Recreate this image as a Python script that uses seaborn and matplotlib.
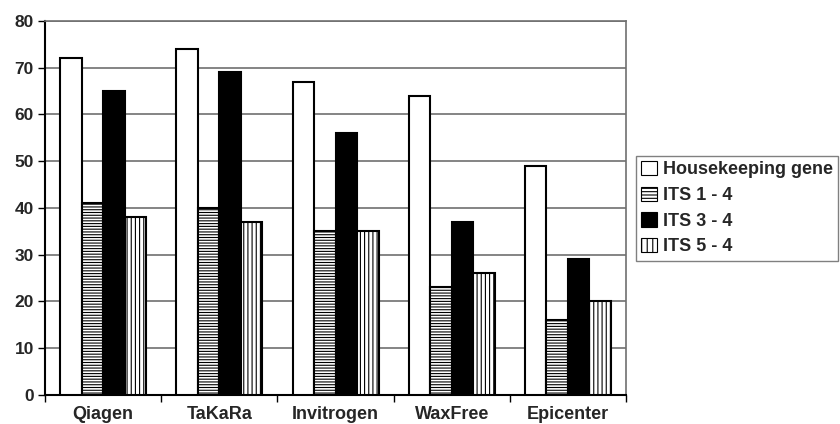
import matplotlib
matplotlib.use("Agg")
import matplotlib.pyplot as plt
import seaborn as sns
import pandas as pd
from matplotlib.patches import Patch

categories = ["Qiagen", "TaKaRa", "Invitrogen", "WaxFree", "Epicenter"]
series = ["Housekeeping gene", "ITS 1 - 4", "ITS 3 - 4", "ITS 5 - 4"]
housekeeping = [72, 74, 67, 64, 49]
its_1_4 = [41, 40, 35, 23, 16]
its_3_4 = [65, 69, 56, 37, 29]
its_5_4 = [38, 37, 35, 26, 20]
y_ticks = [0, 10, 20, 30, 40, 50, 60, 70, 80]

values = [housekeeping, its_1_4, its_3_4, its_5_4]
rows = []
for s, vals in zip(series, values):
    for c, v in zip(categories, vals):
        rows.append({"category": c, "series": s, "value": v})
df = pd.DataFrame(rows)

sns.set_theme(style="white")
plt.rcParams["font.family"] = ["Liberation Sans", "DejaVu Sans"]
plt.rcParams["font.weight"] = "bold"
plt.rcParams["hatch.linewidth"] = 0.8

fig = plt.figure(figsize=(8.4, 4.24), dpi=100)
ax = fig.add_axes([0.0536, 0.0684, 0.6917, 0.8821])

fills = ["white", "white", "black", "white"]
hatches = ["", "------", "", "||||"]

sns.barplot(data=df, x="category", y="value", hue="series", order=categories,
            hue_order=series, palette=fills, width=0.74, gap=0,
            edgecolor="black", linewidth=1.5, legend=False, ax=ax, zorder=3)

for cont, fc, h in zip(ax.containers, fills, hatches):
    for bar in cont:
        bar.set_facecolor(fc)
        bar.set_edgecolor("black")
        bar.set_hatch(h)
        bar.set_linewidth(1.5)

ax.set_xlim(-0.5, len(categories) - 0.5)
ax.set_ylim(0, 80)
ax.set_yticks(y_ticks)
ax.set_yticklabels([str(t) for t in y_ticks], fontsize=12.5, fontweight="bold")
ax.set_xticks(range(len(categories)))
ax.set_xticklabels(categories, fontsize=13, fontweight="bold")
ax.set_xticks([i - 0.5 for i in range(len(categories) + 1)], minor=True)
ax.tick_params(axis="x", which="major", length=0, pad=8)
ax.tick_params(axis="x", which="minor", length=5, width=1, color="black", direction="out", bottom=True)
ax.tick_params(axis="y", which="major", length=5, width=1, color="black", direction="out", left=True, pad=3)
ax.set_xlabel("")
ax.set_ylabel("")

ax.grid(axis="y", color="#707070", linewidth=1.2, zorder=0)
ax.set_axisbelow(True)
for side in ["top", "right"]:
    ax.spines[side].set_color("#707070")
    ax.spines[side].set_linewidth(1.2)
for side in ["left", "bottom"]:
    ax.spines[side].set_color("black")
    ax.spines[side].set_linewidth(1.5)

handles = [Patch(facecolor=fc, edgecolor="black", hatch=h, linewidth=0.8)
           for fc, h in zip(fills, ["", "-----", "", "|||"])]
leg = fig.legend(handles, series, loc="upper left", bbox_to_anchor=(0.757, 0.633),
                 frameon=True, fancybox=False, edgecolor="#606060",
                 prop={"size": 13, "weight": "bold"}, handlelength=0.85,
                 handleheight=0.85, handletextpad=0.35, labelspacing=0.45,
                 borderpad=0.3, borderaxespad=0)
leg.get_frame().set_linewidth(1.0)

fig.savefig("out.png", dpi=100, facecolor="white")
